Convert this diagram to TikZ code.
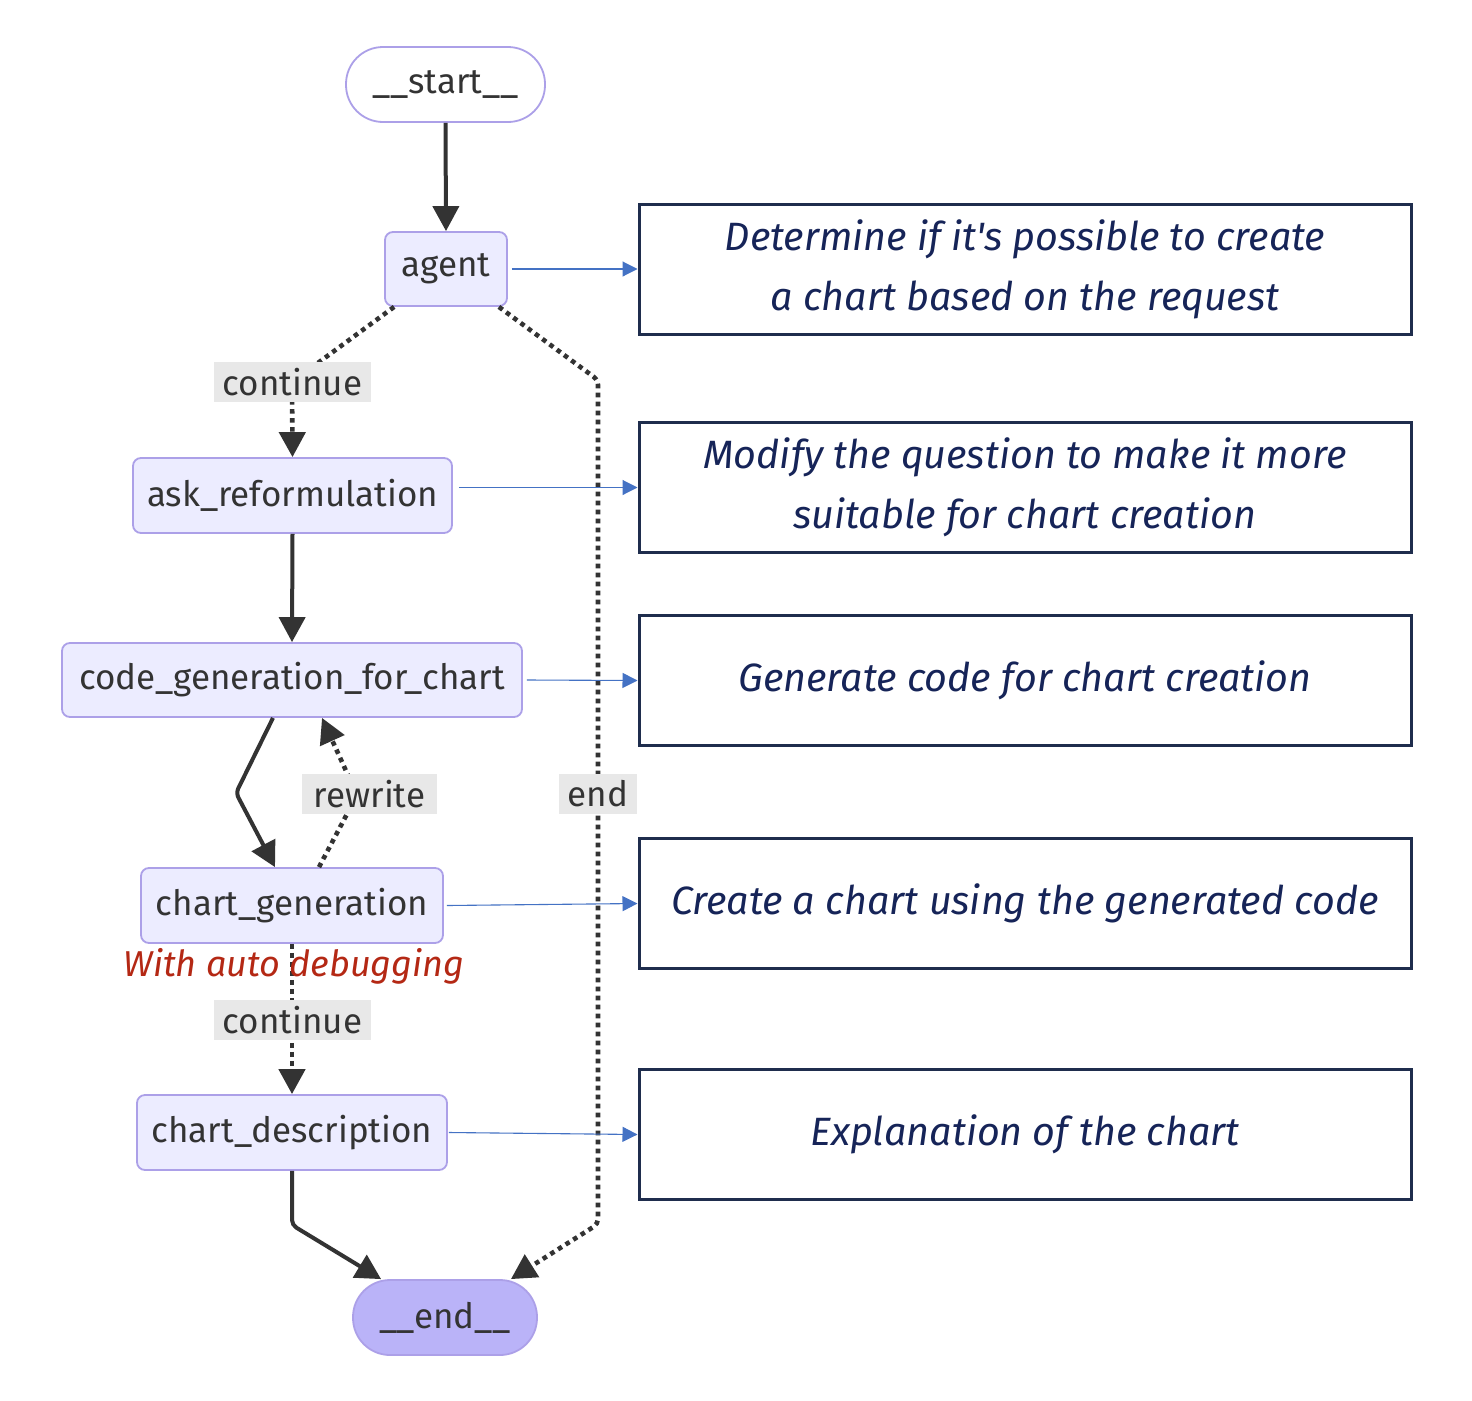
\documentclass[tikz,border=0pt]{standalone}
\usepackage{fontspec}
\usetikzlibrary{arrows.meta,calc}
\newfontfamily\nodefont{Fira Sans}
\newfontfamily\handfont{Fira Sans Italic}
\definecolor{nodefill}{RGB}{236,236,255}
\definecolor{nodeborder}{RGB}{172,160,232}
\definecolor{endfill}{RGB}{186,179,248}
\definecolor{textgray}{RGB}{51,51,51}
\definecolor{edgecol}{RGB}{51,51,51}
\definecolor{labelbg}{RGB}{232,232,232}
\definecolor{navyline}{RGB}{31,45,77}
\definecolor{navytext}{RGB}{22,36,88}
\definecolor{redtext}{RGB}{180,40,20}
\definecolor{arrowblue}{RGB}{68,114,196}
\tikzset{
  gnode/.style={draw=nodeborder, fill=nodefill, line width=1.8pt, rounded corners=8pt,
    inner sep=0pt, font=\nodefont\fontsize{35}{40}\selectfont, text=textgray, minimum height=74pt},
  term/.style={gnode, rounded corners=37pt, minimum height=75pt},
  elabel/.style={fill=labelbg, text=textgray, font=\nodefont\fontsize{35}{40}\selectfont,
    inner sep=0pt, minimum height=40pt},
  solidedge/.style={line width=4pt, draw=edgecol, rounded corners=5pt,
    -{Triangle[width=26pt,length=25pt]}},
  dotedge/.style={solidedge, line width=4.6pt, dash pattern=on 4.6pt off 4.4pt},
  note/.style={draw=navyline, line width=3pt, minimum width=772pt, minimum height=130pt,
    font=\handfont\fontsize{39.5}{60}\selectfont, text=navytext, align=center, inner sep=0pt},
  bluearrow/.style={draw=arrowblue, line width=1.1pt, -{Triangle[width=15pt,length=15pt]}}
}
\begin{document}
\begin{tikzpicture}[x=1pt,y=-1pt]
\useasboundingbox (0,0) rectangle (1472,1400);
\fill[white] (0,0) rectangle (1472,1400);

% graph nodes
\node[term, fill=white, minimum width=199pt] (start) at (445.5,84.5) {\_\_start\_\_};
\node[gnode, minimum width=122pt] (agent) at (446,269) {agent};
\node[gnode, minimum width=319pt, minimum height=75pt] (ask) at (292.5,495.5) {ask\_reformulation};
\node[gnode, minimum width=460pt] (codegen) at (292,680) {code\_generation\_for\_chart};
\node[gnode, minimum width=302pt, minimum height=75pt] (chartgen) at (292,905.5) {chart\_generation};
\node[gnode, minimum width=310pt, minimum height=75pt] (chartdesc) at (292,1132.5) {chart\_description};
\node[term, fill=endfill, minimum width=184pt] (endn) at (445,1317.5) {\_\_end\_\_};

% bend coordinates
\coordinate (c1) at (292,382);
\coordinate (c2) at (236,793);
\coordinate (c3) at (357,795);
\coordinate (c4) at (598,380);
\coordinate (c5) at (598,1224);
\coordinate (c6) at (292,1225);

% edges
\draw[solidedge] (start.south) -- (agent.north);
\draw[dotedge] ([xshift=10pt]agent.south west) -- (c1) -- (ask.north);
\draw[solidedge] (ask.south) -- (codegen.north);
\draw[solidedge] ([xshift=-19pt]codegen.south) -- (c2) -- ([xshift=-17pt]chartgen.north);
\draw[dotedge] ([xshift=27pt]chartgen.north) -- (c3) -- ([xshift=30pt]codegen.south);
\draw[dotedge] ([xshift=-9pt]agent.south east) -- (c4) -- (c5) -- ([xshift=-27pt]endn.north east);
\draw[dotedge] (chartgen.south) -- (chartdesc.north);
\draw[solidedge] (chartdesc.south) -- (c6) -- ([xshift=29pt]endn.north west);

% edge labels
\node[elabel, minimum width=157pt] (lcont1) at (292.5,382) {continue};
\node[elabel, minimum width=135pt] (lrewrite) at (369.5,794) {rewrite};
\node[elabel, minimum width=78pt] (lend) at (598,794) {end};
\node[elabel, minimum width=157pt] (lcont2) at (292.5,1020) {continue};

% annotation
\node[font=\handfont\fontsize{36}{40}\selectfont, text=redtext, inner sep=0pt] (debug) at (294,966) {With auto debugging};

% notes
\node[note] (note1) at (1025,269) {Determine if it's possible to create\\a chart based on the request};
\node[note] (note2) at (1025,487.5) {Modify the question to make it more\\suitable for chart creation};
\node[note] (note3) at (1025,680.5) {Generate code for chart creation};
\node[note] (note4) at (1025,903.5) {Create a chart using the generated code};
\node[note] (note5) at (1025,1134.5) {Explanation of the chart};

% blue arrows
\draw[bluearrow] ([xshift=4pt]agent.east) -- (note1.west);
\draw[bluearrow] ($(ask.east |- note2.west)+(6,0)$) -- (note2.west);
\draw[bluearrow] ([xshift=4pt]codegen.east) -- (note3.west);
\draw[bluearrow] ([xshift=3pt]chartgen.east) -- (note4.west);
\draw[bluearrow] ([xshift=1pt]chartdesc.east) -- (note5.west);
\end{tikzpicture}
\end{document}
